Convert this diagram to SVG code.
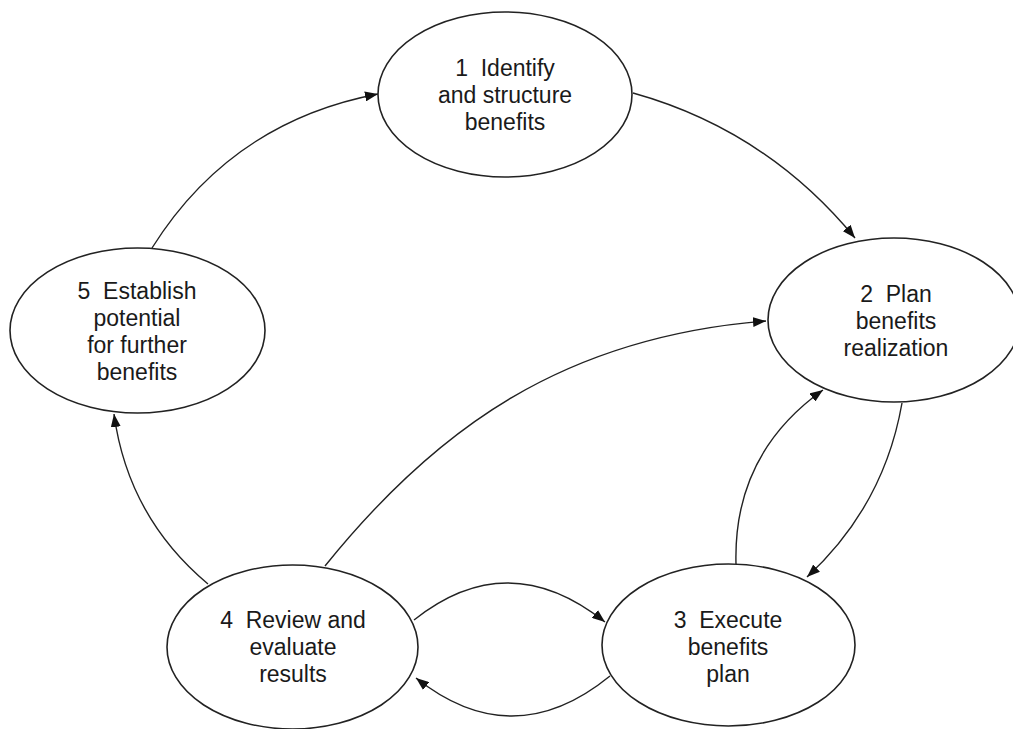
<svg xmlns="http://www.w3.org/2000/svg" width="1013" height="729" viewBox="0 0 1013 729">
<style>
.node ellipse{fill:#fff;stroke:#222;stroke-width:1.6}
.node text{font-family:"Liberation Sans",Arial,sans-serif;font-size:23px;fill:#1a1a1a;text-anchor:middle}
.conn path{fill:none;stroke:#222;stroke-width:1.4;marker-end:url(#arr)}
</style>
<defs>
<marker id="arr" markerUnits="userSpaceOnUse" markerWidth="14" markerHeight="10" refX="13" refY="5" orient="auto">
<path d="M0,0 L13,5 L0,10 Z" fill="#111"/>
</marker>
</defs>
<rect width="1013" height="729" fill="#fff"/>
<g id="connectors" class="conn">
<path d="M633,93 Q766,130 855,238"/>
<path d="M152,248 Q231,122 378,94"/>
<path d="M208,584 Q128,517 114,414"/>
<path d="M325,566 C437,427 565,337 766,321"/>
<path d="M414,620 Q508,545 605,622"/>
<path d="M610,676 Q513,755 416,678"/>
<path d="M736,564 Q733,454 823,390"/>
<path d="M902,403 Q884,506 807,577"/>
</g>
<g id="node1" class="node">
<ellipse cx="505" cy="94.5" rx="127" ry="82.5"/>
<text x="505" y="76">1&#160; Identify</text>
<text x="505" y="103">and structure</text>
<text x="505" y="130">benefits</text>
</g>
<g id="node2" class="node">
<ellipse cx="894" cy="320" rx="126" ry="82"/>
<text x="896" y="302">2&#160; Plan</text>
<text x="896" y="329">benefits</text>
<text x="896" y="356">realization</text>
</g>
<g id="node3" class="node">
<ellipse cx="728.5" cy="645" rx="126.5" ry="81"/>
<text x="728" y="628">3&#160; Execute</text>
<text x="728" y="655">benefits</text>
<text x="728" y="682">plan</text>
</g>
<g id="node4" class="node">
<ellipse cx="292.5" cy="647" rx="125.5" ry="82"/>
<text x="293" y="628">4&#160; Review and</text>
<text x="293" y="655">evaluate</text>
<text x="293" y="682">results</text>
</g>
<g id="node5" class="node">
<ellipse cx="137.5" cy="330.5" rx="127.5" ry="82.5"/>
<text x="137" y="299">5&#160; Establish</text>
<text x="137" y="326">potential</text>
<text x="137" y="353">for further</text>
<text x="137" y="380">benefits</text>
</g>
</svg>
